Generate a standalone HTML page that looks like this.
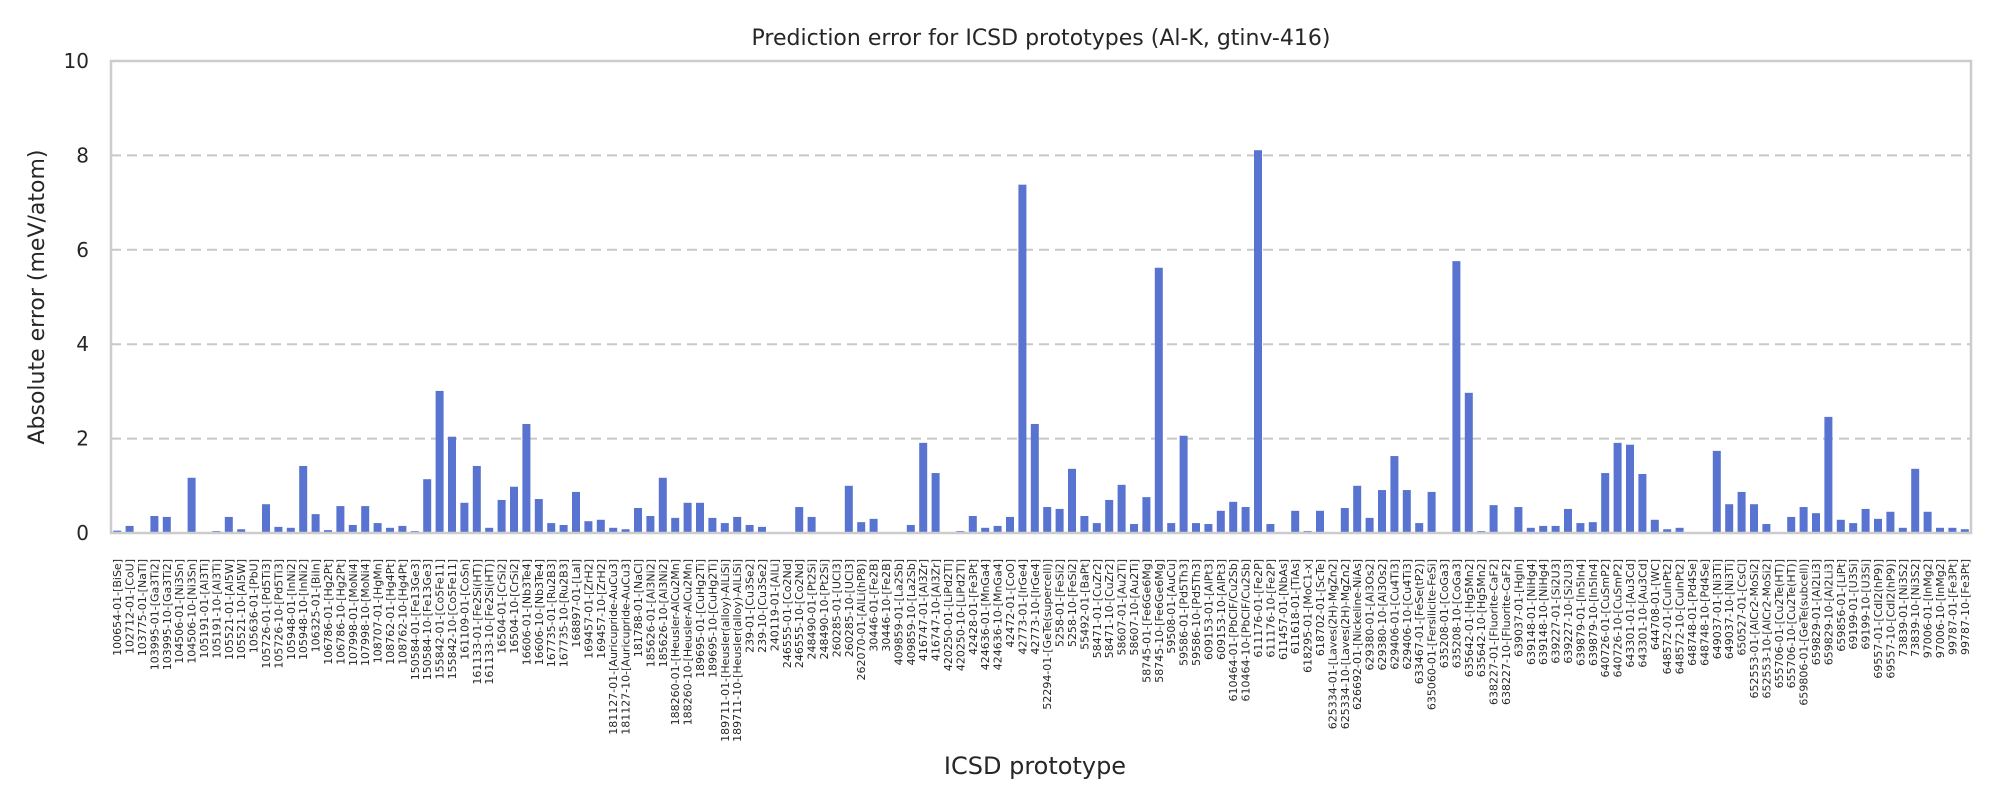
<!DOCTYPE html>
<html><head><meta charset="utf-8">
<style>
html,body{margin:0;padding:0;background:#fff;}
svg{display:block;font-family:"DejaVu Sans","Liberation Sans",sans-serif;}
</style></head>
<body>
<svg id="chart" width="2000" height="800" viewBox="0 0 2000 800" xmlns="http://www.w3.org/2000/svg">
<text x="1041" y="45" font-size="22" text-anchor="middle" fill="#262626">Prediction error for ICSD prototypes (Al-K, gtinv-416)</text>
<text transform="translate(44,297) rotate(-90)" font-size="22" text-anchor="middle" fill="#262626">Absolute error (meV/atom)</text>
<text x="1035" y="774" font-size="24" text-anchor="middle" fill="#262626">ICSD prototype</text>
<g id="grid"></g>
<g id="bars"></g>
<rect x="111" y="61" width="1860" height="472" fill="none" stroke="#cccccc" stroke-width="2.5"/>
<g id="yticks"></g>
<g id="xticks"></g>
</svg>
<script>
const categories = ["100654-01-[BiSe]","102712-01-[CoU]","103775-01-[NaTl]","103995-01-[Ga3Ti2]","103995-10-[Ga3Ti2]","104506-01-[Ni3Sn]","104506-10-[Ni3Sn]","105191-01-[Al3Ti]","105191-10-[Al3Ti]","105521-01-[Al5W]","105521-10-[Al5W]","105636-01-[PbU]","105726-01-[Pd5Ti3]","105726-10-[Pd5Ti3]","105948-01-[InNi2]","105948-10-[InNi2]","106325-01-[BiIn]","106786-01-[Hg2Pt]","106786-10-[Hg2Pt]","107998-01-[MoNi4]","107998-10-[MoNi4]","108707-01-[HgMn]","108762-01-[Hg4Pt]","108762-10-[Hg4Pt]","150584-01-[Fe13Ge3]","150584-10-[Fe13Ge3]","155842-01-[Co5Fe11]","155842-10-[Co5Fe11]","161109-01-[CoSn]","161133-01-[Fe2Si(HT)]","161133-10-[Fe2Si(HT)]","16504-01-[CrSi2]","16504-10-[CrSi2]","16606-01-[Nb3Te4]","16606-10-[Nb3Te4]","167735-01-[Ru2B3]","167735-10-[Ru2B3]","168897-01-[LaI]","169457-01-[ZrH2]","169457-10-[ZrH2]","181127-01-[Auricupride-AuCu3]","181127-10-[Auricupride-AuCu3]","181788-01-[NaCl]","185626-01-[Al3Ni2]","185626-10-[Al3Ni2]","188260-01-[Heusler-AlCu2Mn]","188260-10-[Heusler-AlCu2Mn]","189695-01-[CuHg2Ti]","189695-10-[CuHg2Ti]","189711-01-[Heusler(alloy)-AlLiSi]","189711-10-[Heusler(alloy)-AlLiSi]","239-01-[Cu3Se2]","239-10-[Cu3Se2]","240119-01-[AlLi]","246555-01-[Co2Nd]","246555-10-[Co2Nd]","248490-01-[Pt2Si]","248490-10-[Pt2Si]","260285-01-[UCl3]","260285-10-[UCl3]","262070-01-[AlLi(hP8)]","30446-01-[Fe2B]","30446-10-[Fe2B]","409859-01-[La2Sb]","409859-10-[La2Sb]","416747-01-[Al3Zr]","416747-10-[Al3Zr]","420250-01-[LiPd2Tl]","420250-10-[LiPd2Tl]","42428-01-[Fe3Pt]","424636-01-[MnGa4]","424636-10-[MnGa4]","42472-01-[CoO]","42773-01-[IrGe4]","42773-10-[IrGe4]","52294-01-[GeTe(supercell)]","5258-01-[FeSi2]","5258-10-[FeSi2]","55492-01-[BaPt]","58471-01-[CuZr2]","58471-10-[CuZr2]","58607-01-[Au2Ti]","58607-10-[Au2Ti]","58745-01-[Fe6Ge6Mg]","58745-10-[Fe6Ge6Mg]","59508-01-[AuCu]","59586-01-[Pd5Th3]","59586-10-[Pd5Th3]","609153-01-[AlPt3]","609153-10-[AlPt3]","610464-01-[PbClF/Cu2Sb]","610464-10-[PbClF/Cu2Sb]","611176-01-[Fe2P]","611176-10-[Fe2P]","611457-01-[NbAs]","611618-01-[TiAs]","618295-01-[MoC1-x]","618702-01-[ScTe]","625334-01-[Laves(2H)-MgZn2]","625334-10-[Laves(2H)-MgZn2]","626692-01-[Nickeline-NiAs]","629380-01-[Al3Os2]","629380-10-[Al3Os2]","629406-01-[Cu4Ti3]","629406-10-[Cu4Ti3]","633467-01-[FeSe(tP2)]","635060-01-[Fersilicite-FeSi]","635208-01-[CoGa3]","635208-10-[CoGa3]","635642-01-[Hg5Mn2]","635642-10-[Hg5Mn2]","638227-01-[Fluorite-CaF2]","638227-10-[Fluorite-CaF2]","639037-01-[HgIn]","639148-01-[NiHg4]","639148-10-[NiHg4]","639227-01-[Si2U3]","639227-10-[Si2U3]","639879-01-[In5In4]","639879-10-[In5In4]","640726-01-[CuSmP2]","640726-10-[CuSmP2]","643301-01-[Au3Cd]","643301-10-[Au3Cd]","644708-01-[WC]","648572-01-[CuInPt2]","648572-10-[CuInPt2]","648748-01-[Pd4Se]","648748-10-[Pd4Se]","649037-01-[Ni3Ti]","649037-10-[Ni3Ti]","650527-01-[CsCl]","652553-01-[AlCr2-MoSi2]","652553-10-[AlCr2-MoSi2]","655706-01-[Cu2Te(HT)]","655706-10-[Cu2Te(HT)]","659806-01-[GeTe(subcell)]","659829-01-[Al2Li3]","659829-10-[Al2Li3]","659856-01-[LiPt]","69199-01-[U3Si]","69199-10-[U3Si]","69557-01-[CdI2(hP9)]","69557-10-[CdI2(hP9)]","73839-01-[Ni3S2]","73839-10-[Ni3S2]","97006-01-[InMg2]","97006-10-[InMg2]","99787-01-[Fe3Pt]","99787-10-[Fe3Pt]"];
const errors = [0.05,0.15,0,0.36,0.34,0.02,1.17,0.02,0.04,0.34,0.08,0,0.61,0.13,0.11,1.42,0.40,0.06,0.57,0.17,0.57,0.21,0.11,0.15,0.04,1.14,3.01,2.04,0.64,1.42,0.11,0.70,0.98,2.31,0.72,0.21,0.17,0.87,0.25,0.28,0.11,0.08,0.53,0.36,1.17,0.32,0.64,0.64,0.32,0.21,0.34,0.17,0.13,0,0.02,0.55,0.34,0,0.005,1.0,0.23,0.30,0,0.02,0.17,1.91,1.27,0.02,0.04,0.36,0.11,0.15,0.34,7.38,2.31,0.55,0.51,1.36,0.36,0.21,0.70,1.02,0.19,0.76,5.62,0.21,2.06,0.21,0.19,0.47,0.66,0.55,8.11,0.19,0,0.47,0.04,0.47,0,0.53,1.0,0.32,0.91,1.63,0.91,0.21,0.87,0,5.76,2.97,0.04,0.59,0,0.55,0.11,0.15,0.15,0.51,0.21,0.23,1.27,1.91,1.87,1.25,0.28,0.08,0.11,0.02,0,1.74,0.61,0.87,0.61,0.19,0.02,0.34,0.55,0.42,2.46,0.28,0.21,0.51,0.30,0.45,0.11,1.36,0.45,0.11,0.11,0.08];
const yTicks = [0,2,4,6,8,10];
const gridValues = [2,4,6,8];

const NS = "http://www.w3.org/2000/svg";
const X0 = 111, X1 = 1971, Y0 = 533, Y1 = 61, YMAX = 10;
const step = (X1 - X0) / categories.length;
function xCenter(i){ return X0 + step * (i + 0.5); }
function yPos(v){ return Y0 - (v / YMAX) * (Y0 - Y1); }

const grid = document.getElementById('grid');
gridValues.forEach(v => {
  const l = document.createElementNS(NS,'line');
  
  
  l.setAttribute('x1', X0); l.setAttribute('x2', X1);
  l.setAttribute('y1', yPos(v)); l.setAttribute('y2', yPos(v));
  l.setAttribute('stroke', '#c8c8c8'); l.setAttribute('stroke-width', '2');
  l.setAttribute('stroke-dasharray', '10,6');
  grid.appendChild(l);
});

const yt = document.getElementById('yticks');
yTicks.forEach(v => {
  const t = document.createElementNS(NS,'text');
  
  
  t.setAttribute('x', 89); t.setAttribute('y', yPos(v) + 7);
  t.setAttribute('font-size', '20'); t.setAttribute('text-anchor', 'end');
  t.setAttribute('fill', '#262626');
  t.textContent = v;
  yt.appendChild(t);
});

const bars = document.getElementById('bars');
const xt = document.getElementById('xticks');
const bw = 8;
categories.forEach((c, i) => {
  const v = errors[i];
  const r = document.createElementNS(NS,'rect');
  
  
  r.setAttribute('x', xCenter(i) - bw/2);
  r.setAttribute('y', yPos(v));
  r.setAttribute('width', bw);
  r.setAttribute('height', Math.max(0, Y0 - yPos(v)));
  r.setAttribute('fill', '#5874d0');
  bars.appendChild(r);

  const t = document.createElementNS(NS,'text');
  
  
  const cx = xCenter(i) + 4, cy = 559;
  t.setAttribute('transform', 'translate(' + cx + ',' + cy + ') rotate(-90)');
  t.setAttribute('font-size', '11'); t.setAttribute('text-anchor', 'end');
  t.setAttribute('fill', '#262626');
  t.textContent = c;
  xt.appendChild(t);
});
</script>
</body></html>
